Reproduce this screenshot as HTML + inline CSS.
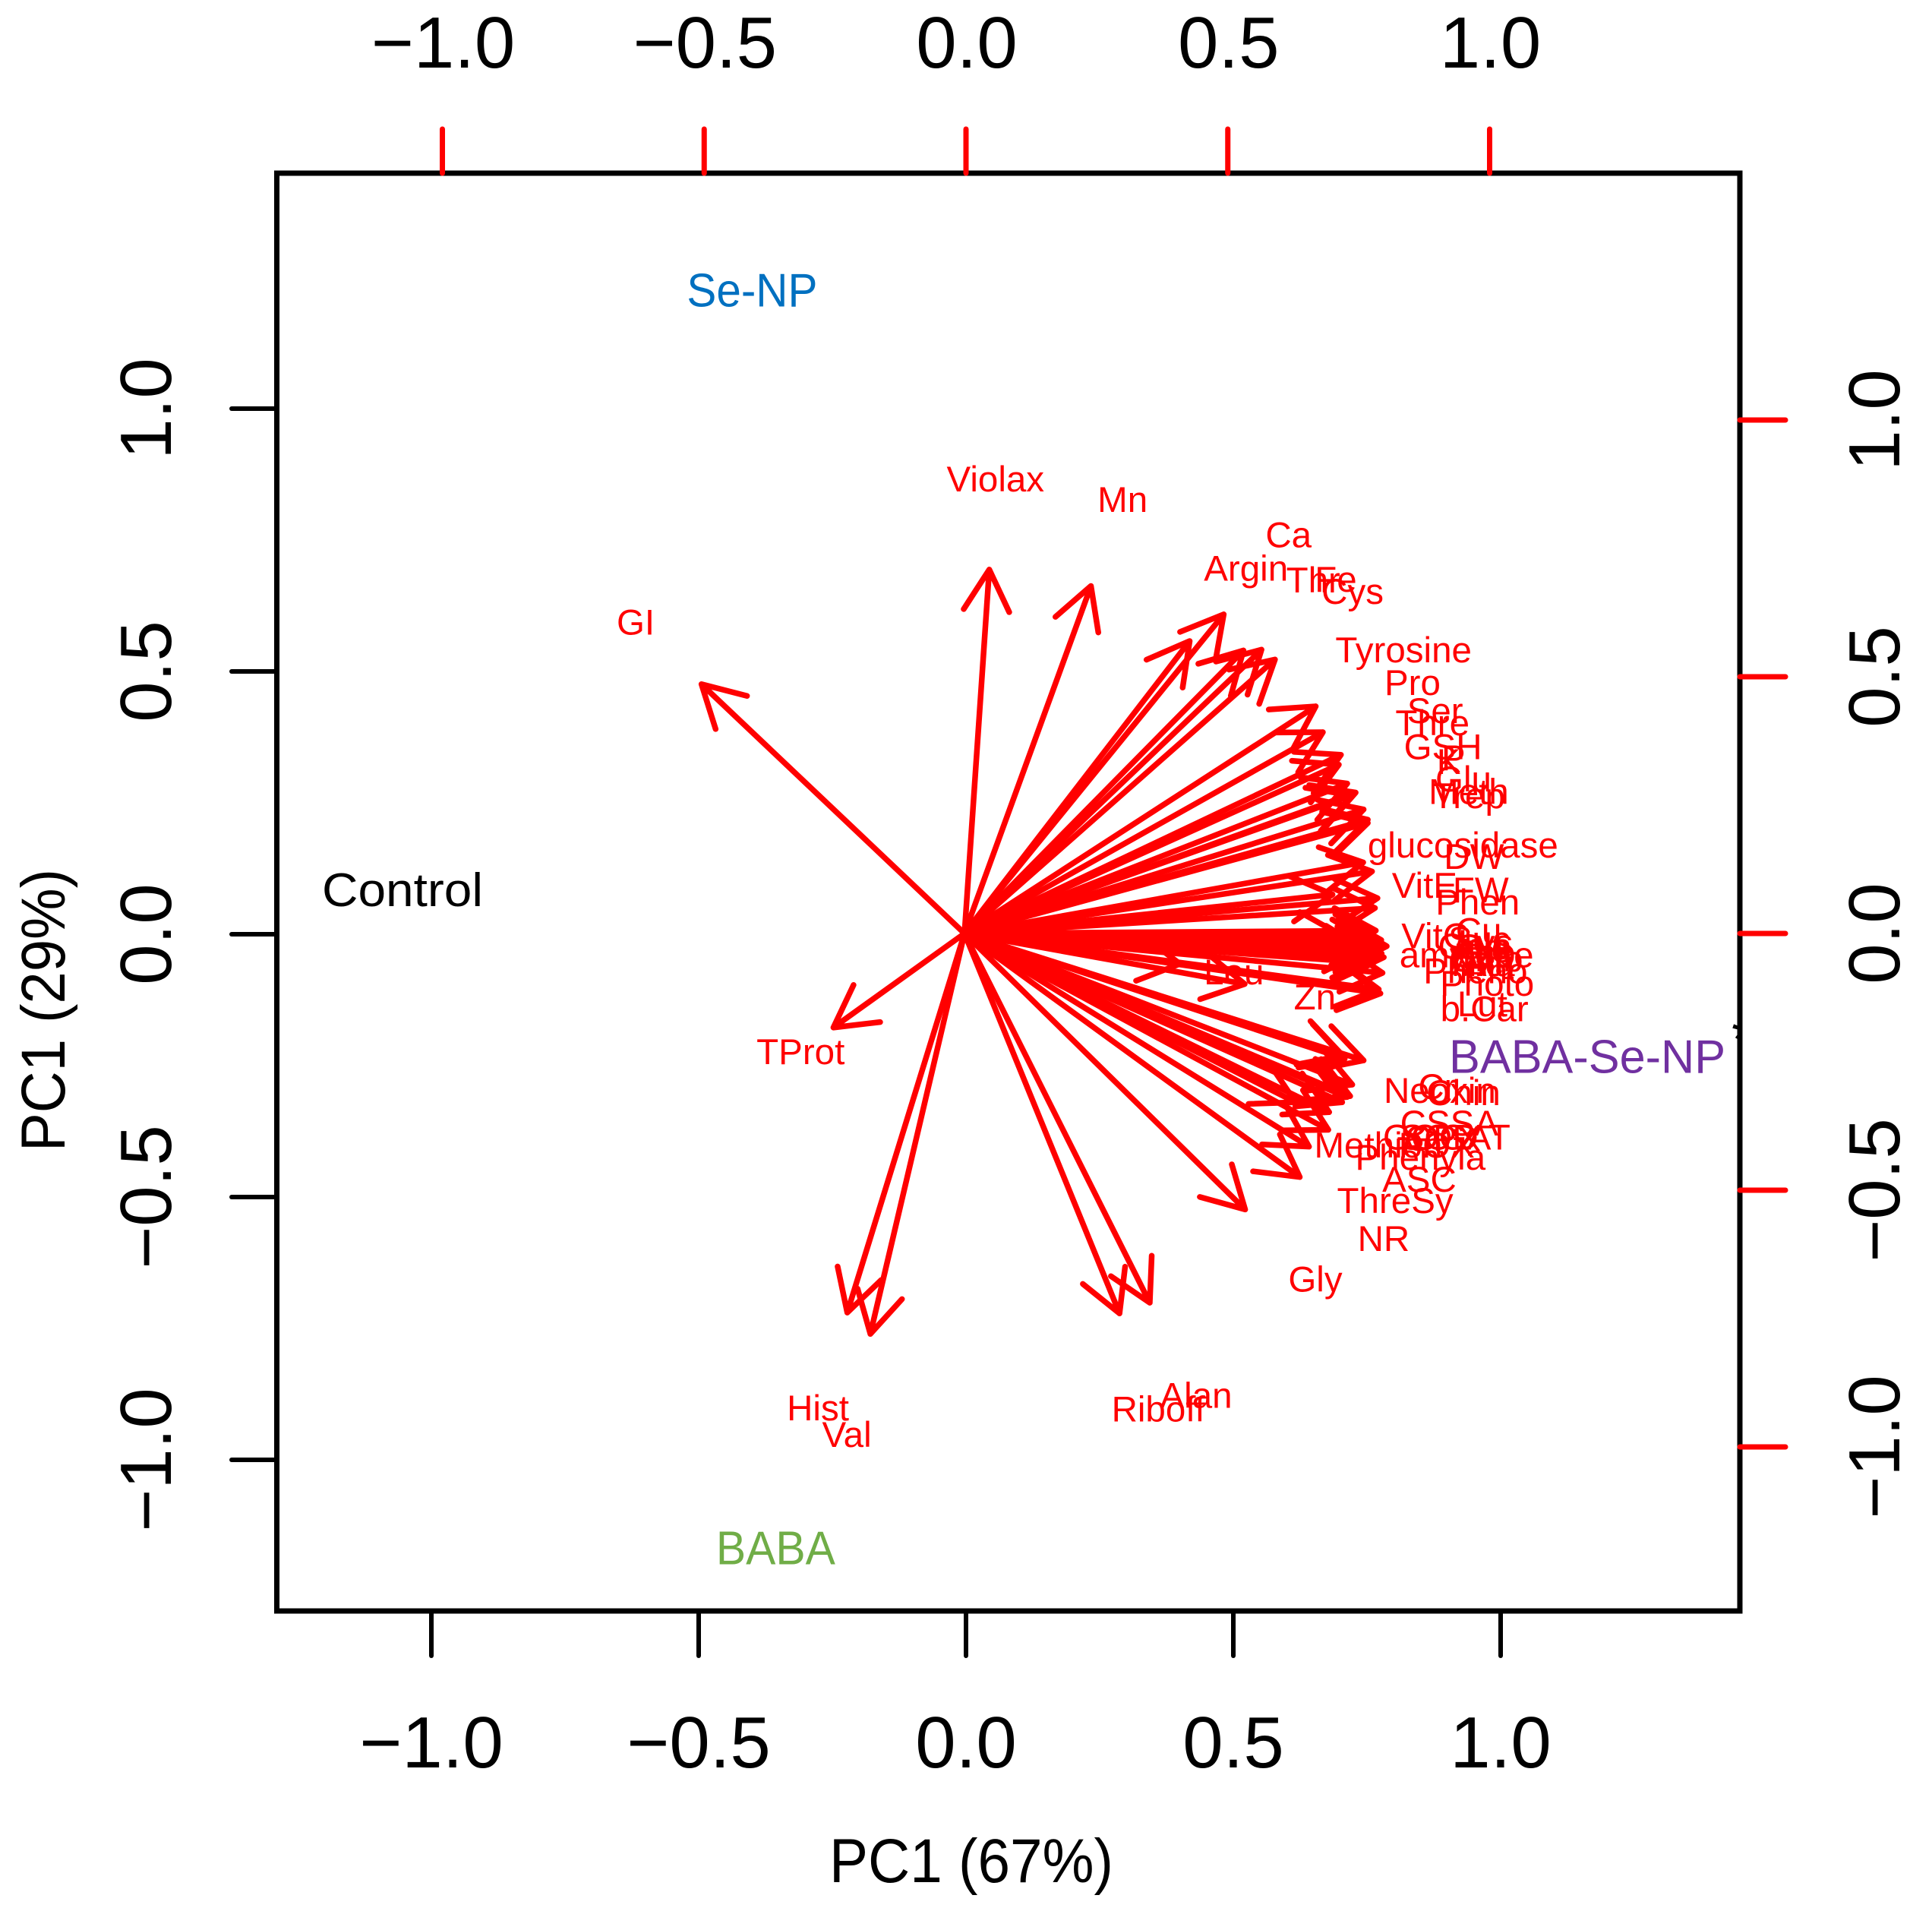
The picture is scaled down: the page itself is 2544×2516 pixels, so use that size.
<!DOCTYPE html>
<html lang="en">
<head>
<meta charset="utf-8">
<title>PCA biplot</title>
<style>
  html, body { margin: 0; padding: 0; background: #fff; }
  svg { display: block; }
  text { font-family: "Liberation Sans", sans-serif; }
</style>
</head>
<body>
<svg id="chart" xmlns="http://www.w3.org/2000/svg" width="2544" height="2516" viewBox="0 0 2544 2516">
  <rect x="0" y="0" width="2544" height="2516" fill="#ffffff"/>
  <defs>
    <clipPath id="plot-clip"><rect x="365" y="228" width="1924" height="1893"/></clipPath>
  </defs>
  <g id="arrows"></g>
  <g id="var-labels"></g>
  <g id="groups"></g>
  <text x="2280" y="1396" font-size="80" fill="#000" clip-path="url(#plot-clip)">*</text>
  <rect x="364.5" y="228" width="1926.5" height="1893" fill="none" stroke="#000" stroke-width="7"/>
  <g id="axes"></g>
  <text x="1279" y="2478" font-size="82" text-anchor="middle" textLength="374" lengthAdjust="spacingAndGlyphs" fill="#000">PC1 (67%)</text>
  <text transform="translate(85,1330) rotate(-90)" font-size="82" text-anchor="middle" textLength="372" lengthAdjust="spacingAndGlyphs" fill="#000">PC1 (29%)</text>
</svg>
<script>
// ---- chart data ----
const varNames = ["GI","Violax","Mn","Ca","Argin","Thr","Fe","Cys","Tyrosine","Pro","Ser","Thre","GSH","K","P","Glu","Meth","Trep","glucosidase","DW","VitE","FW","Phen","VitC","Cu","Suc","Glc","Lys","Ile","Asp","Tyr","amylase","Chla","Chlb","Ala","Nic","Pheno","Photo","Lut","b.Car","Leu","Zn","Neoxin","Chin","Cr","CSSA","GOGAT","SOD","GPX","POX","Methion","Phenyla","ASC","ThreSy","NR","Gly","Alan","Riboff","Hist","Val","TProt"];
const loadingX = [-0.626,0.059,0.301,0.617,0.536,0.664,0.707,0.739,0.836,0.853,0.896,0.891,0.911,0.922,0.931,0.950,0.960,0.960,0.949,0.970,0.876,0.983,0.977,0.896,0.979,0.980,0.986,0.992,1.005,0.990,0.983,0.956,0.972,0.993,0.998,0.976,0.973,0.995,0.986,0.990,0.513,0.667,0.905,0.950,0.900,0.923,0.918,0.904,0.911,0.899,0.788,0.868,0.866,0.820,0.798,0.668,0.441,0.369,-0.279,-0.224,-0.312];
const loadingY = [0.607,0.886,0.846,0.777,0.712,0.689,0.691,0.667,0.553,0.490,0.435,0.411,0.365,0.336,0.343,0.302,0.277,0.269,0.173,0.151,0.095,0.086,0.062,-0.004,0.007,-0.010,-0.025,-0.016,-0.031,-0.036,-0.043,-0.041,-0.024,-0.049,-0.058,-0.058,-0.072,-0.096,-0.136,-0.146,-0.074,-0.123,-0.305,-0.309,-0.297,-0.368,-0.396,-0.396,-0.398,-0.411,-0.411,-0.435,-0.478,-0.519,-0.593,-0.672,-0.899,-0.925,-0.923,-0.975,-0.229];
const groupNames = ["Control","Se-NP","BABA","BABA-Se-NP"];
const scoreX = [-1.054,-0.400,-0.356,1.162];
const scoreY = [0.085,1.226,-1.167,-0.232];
const tickValues = [-1.0,-0.5,0.0,0.5,1.0];
const tickLabels = ["\u22121.0","\u22120.5","0.0","0.5","1.0"];

// ---- scales ----
const primaryX = v => 1272 + v * 704;
const primaryY = v => 1230 - v * 692;
const topAxisX = v => 1272 + v * 689.5;
const secondaryX = v => 1270 + v * 691.6;
const secondaryY = v => 1229 - v * 676;
const arrowScale = 0.8;

// ---- styling ----
const groupStyle = {
  "Control": { color: "#000000", len: 212 },
  "Se-NP": { color: "#0070C0", len: 172 },
  "BABA": { color: "#70AD47", len: 157 },
  "BABA-Se-NP": { color: "#7030A0", len: 364 }
};
const NS = "http://www.w3.org/2000/svg";
const mk = (tag, parent) => { const e = document.createElementNS(NS, tag); parent.appendChild(e); return e; };
const axesG = document.getElementById("axes");
const arrowsG = document.getElementById("arrows");
const labelsG = document.getElementById("var-labels");
const groupsG = document.getElementById("groups");

function setLine(l, x1, y1, x2, y2, color, w) {
  l.setAttribute("x1", x1); l.setAttribute("y1", y1);
  l.setAttribute("x2", x2); l.setAttribute("y2", y2);
  l.setAttribute("stroke", color); l.setAttribute("stroke-width", w);
  l.setAttribute("stroke-linecap", "round");
}
function setTickText(t, txt, transform) {
  t.textContent = txt;
  t.setAttribute("transform", transform);
  t.setAttribute("font-size", "96");
  t.setAttribute("text-anchor", "middle");
  t.setAttribute("fill", "#000");
}

tickValues.forEach((v, i) => {
  const bt = mk("line", axesG);
  
  
  setLine(bt, primaryX(v), 2121, primaryX(v), 2180, "#000", 6);

  const bl = mk("text", axesG);
  
  
  setTickText(bl, tickLabels[i], `translate(${primaryX(v)},2327)`);

  const lt = mk("line", axesG);
  
  
  setLine(lt, 364.5, primaryY(v), 305, primaryY(v), "#000", 6);

  const ll = mk("text", axesG);
  
  
  setTickText(ll, tickLabels[i], `translate(225,${primaryY(v)}) rotate(-90)`);

  const tt = mk("line", axesG);
  
  
  setLine(tt, topAxisX(v), 228, topAxisX(v), 170, "#ff0000", 7);

  const tl = mk("text", axesG);
  
  
  setTickText(tl, tickLabels[i], `translate(${topAxisX(v) + 1},89)`);

  const rt = mk("line", axesG);
  
  
  setLine(rt, 2291, secondaryY(v), 2351, secondaryY(v), "#ff0000", 7);

  const rl = mk("text", axesG);
  
  
  setTickText(rl, tickLabels[i], `translate(2501,${secondaryY(v)}) rotate(-90)`);
});

// ---- arrows and variable labels ----
const headLen = 62;
const headAngle = 29 * Math.PI / 180;
const x0 = secondaryX(0), y0 = secondaryY(0);

varNames.forEach((name, i) => {
  const tipX = secondaryX(loadingX[i] * arrowScale);
  const tipY = secondaryY(loadingY[i] * arrowScale);
  const ang = Math.atan2(y0 - tipY, x0 - tipX);
  const bx1 = tipX + headLen * Math.cos(ang + headAngle);
  const by1 = tipY + headLen * Math.sin(ang + headAngle);
  const bx2 = tipX + headLen * Math.cos(ang - headAngle);
  const by2 = tipY + headLen * Math.sin(ang - headAngle);

  const p = mk("path", arrowsG);
  
  
  p.setAttribute("d", `M${x0} ${y0}L${tipX} ${tipY}M${bx1} ${by1}L${tipX} ${tipY}L${bx2} ${by2}`);
  p.setAttribute("fill", "none");
  p.setAttribute("stroke", "#ff0000");
  p.setAttribute("stroke-width", "7.5");
  p.setAttribute("stroke-linecap", "round");
  p.setAttribute("stroke-linejoin", "round");

  const t = mk("text", labelsG);
  
  
  t.textContent = name;
  t.setAttribute("x", secondaryX(loadingX[i]));
  t.setAttribute("y", secondaryY(loadingY[i]) + 17);
  t.setAttribute("font-size", "47.5");
  t.setAttribute("text-anchor", "middle");
  t.setAttribute("fill", "#ff0000");
});

// ---- group labels ----
groupNames.forEach((name, i) => {
  const s = groupStyle[name];
  const t = mk("text", groupsG);
  
  
  t.textContent = name;
  t.setAttribute("x", primaryX(scoreX[i]));
  t.setAttribute("y", primaryY(scoreY[i]) + 22);
  t.setAttribute("font-size", "62");
  t.setAttribute("text-anchor", "middle");
  t.setAttribute("textLength", s.len);
  t.setAttribute("lengthAdjust", "spacingAndGlyphs");
  t.setAttribute("fill", s.color);
});
</script>
</body>
</html>
